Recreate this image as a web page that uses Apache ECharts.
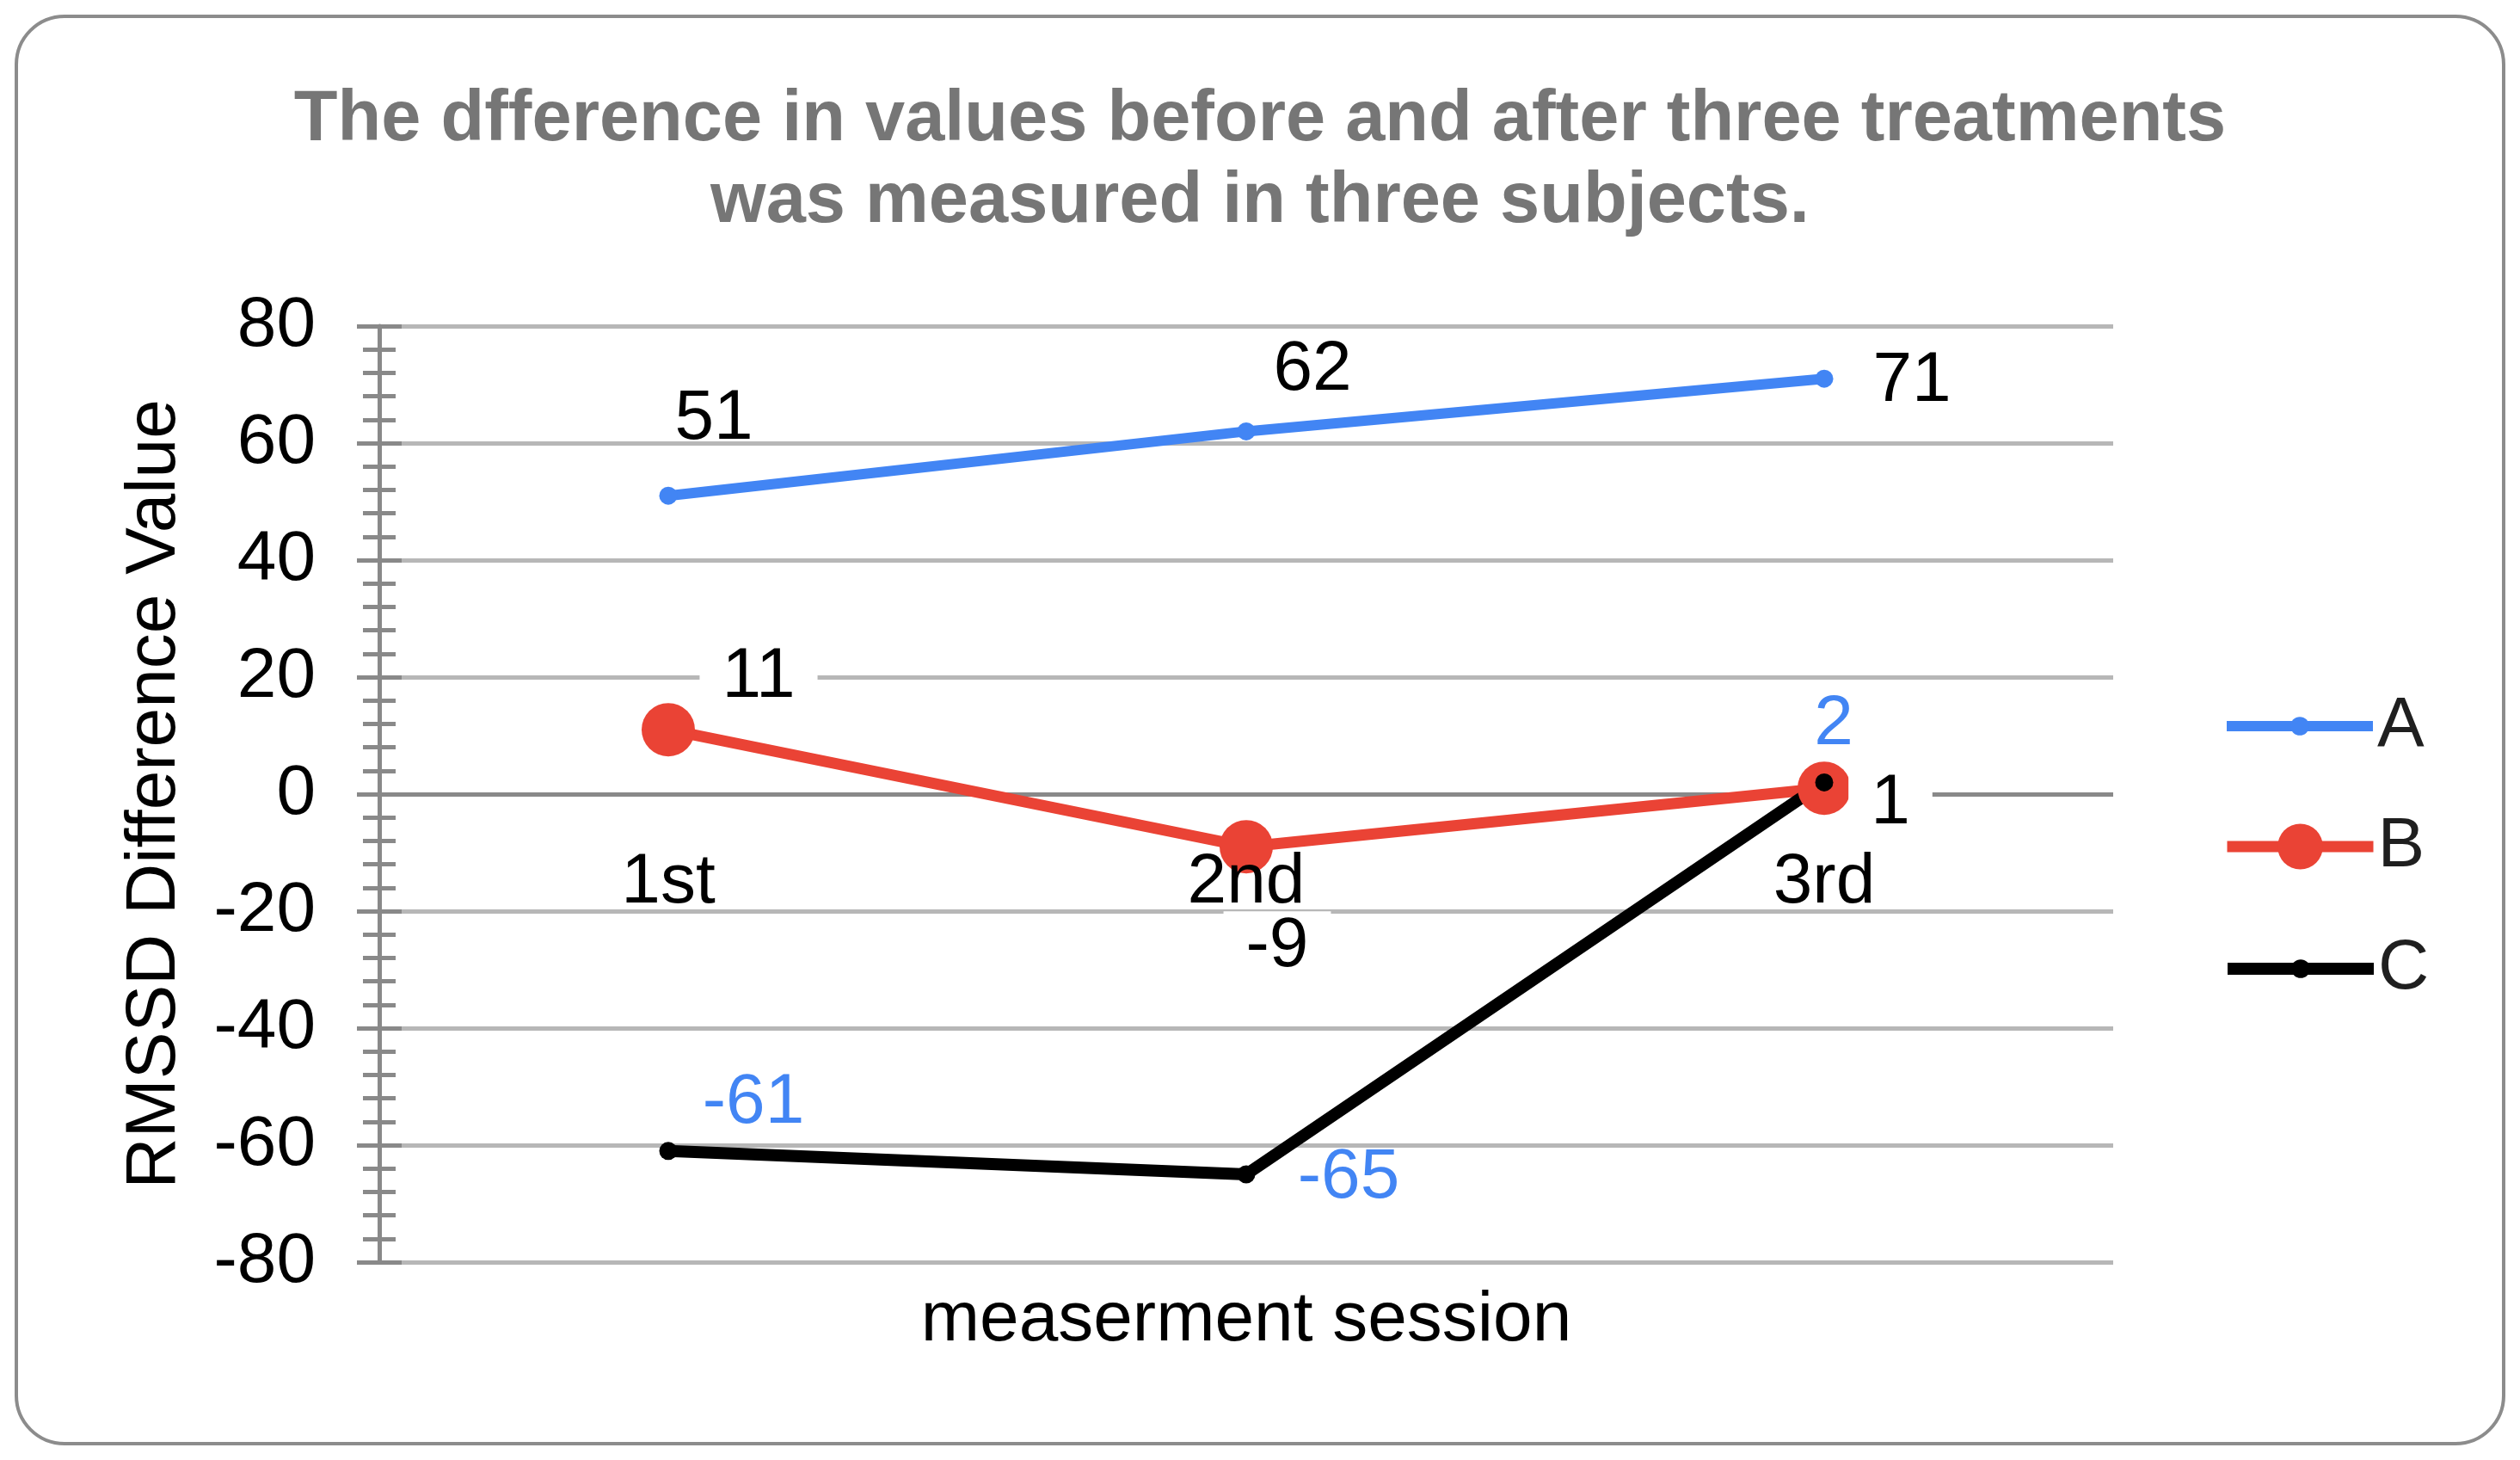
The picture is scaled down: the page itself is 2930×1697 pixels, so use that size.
<!DOCTYPE html>
<html>
<head>
<meta charset="utf-8">
<script src="https://cdn.jsdelivr.net/npm/echarts@6/dist/echarts.min.js"></script>
<style>
  html, body { margin: 0; padding: 0; background: #fff; }
  #main { width: 2930px; height: 1697px; }
</style>
</head>
<body>
<div id="main"></div>
<script>
const categories = ['1st', '2nd', '3rd'];
const seriesA = [51, 62, 71];
const seriesB = [11, -9, 1];
const seriesC = [-61, -65, 2];
const yMin = -80, yMax = 80, yStep = 20;

// where each data label sits relative to its point (px)
const offA = [[53, -89], [77, -71], [102, 3]];
const offB = [[105, -61], [36, 116], [77, 18]];
const offC = [[99, -55], [119, 4], [11, -67]];

const font = 'Liberation Sans, Arial, sans-serif';
const axisGrey = '#898989';

const gridTop = 379, gridBottom = 230, chartH = 1697;
const plotH = chartH - gridTop - gridBottom;
// lift the category axis from the plot bottom up to the zero line
const zeroLift = -plotH * (0 - yMin) / (yMax - yMin);

const withOffsets = (vals, offs) => vals.map((v, i) => ({ value: v, label: { offset: offs[i] } }));

const labelBase = {
  show: true,
  position: 'inside',
  align: 'center',
  verticalAlign: 'middle',
  fontSize: 82,
  fontFamily: font,
  color: '#000'
};

const yAxisCommon = {
  type: 'value',
  min: yMin,
  max: yMax,
  interval: yStep,
  position: 'left'
};

const legendText = { fontSize: 82, color: '#1f1f1f', fontFamily: font };

const option = {
  animation: false,
  backgroundColor: '#fff',
  title: {
    text: 'The dfference in values before and after three treatments\nwas measured in three subjects.',
    left: 'center',
    top: 88,
    textStyle: { fontSize: 83, fontWeight: 'bold', color: '#767676', lineHeight: 95, fontFamily: font }
  },
  graphic: [{
    type: 'rect',
    shape: { x: 19, y: 19, width: 2892, height: 1659, r: 56 },
    style: { fill: 'none', stroke: '#8c8c8c', lineWidth: 4 },
    silent: true
  }],
  legend: [
    { data: ['A'], left: 2583, top: 803, padding: 0, itemWidth: 170, itemHeight: 27, selectedMode: false,
      lineStyle: { width: 12 }, textStyle: legendText },
    { data: ['B'], left: 2583, top: 943, padding: 0, itemWidth: 170, itemHeight: 66, selectedMode: false,
      lineStyle: { width: 13 }, textStyle: legendText },
    { data: ['C'], left: 2583, top: 1085, padding: 0, itemWidth: 170, itemHeight: 27, selectedMode: false,
      lineStyle: { width: 14 }, textStyle: legendText }
  ],
  grid: { left: 441, right: 473, top: gridTop, bottom: gridBottom, containLabel: false, outerBoundsMode: 'none' },
  xAxis: [
    {
      // category labels sit on the zero line, above the markers
      type: 'category',
      data: categories,
      position: 'bottom',
      offset: zeroLift,
      z: 10,
      axisLine: { show: false, onZero: false },
      axisTick: { show: false },
      axisLabel: { margin: 62, fontSize: 82, color: '#000', fontFamily: font },
      splitLine: { show: false }
    },
    {
      // axis title under the plot
      type: 'category',
      data: categories,
      position: 'bottom',
      axisLine: { show: false, onZero: false },
      axisTick: { show: false },
      axisLabel: { show: false },
      splitLine: { show: false },
      name: 'measerment session',
      nameLocation: 'middle',
      nameGap: 27,
      nameTextStyle: { fontSize: 82, color: '#000', fontFamily: font }
    }
  ],
  yAxis: [
    Object.assign({}, yAxisCommon, {
      axisLine: { show: true, lineStyle: { color: axisGrey, width: 5 } },
      axisTick: { show: true, length: 26, lineStyle: { color: axisGrey, width: 5 } },
      minorTick: { show: true, splitNumber: 5, length: 19, lineStyle: { color: axisGrey, width: 5 } },
      axisLabel: { margin: 74, fontSize: 82, color: '#000', fontFamily: font },
      splitLine: { show: true, lineStyle: { color: '#b7b7b7', width: 5 } },
      name: 'RMSSD Difference Value',
      nameLocation: 'middle',
      nameGap: 220,
      nameTextStyle: { fontSize: 82, color: '#000', fontFamily: font }
    }),
    Object.assign({}, yAxisCommon, {
      // inner half of the crossing ticks
      axisLine: { show: false },
      axisTick: { show: true, inside: true, length: 26, lineStyle: { color: axisGrey, width: 5 } },
      minorTick: { show: true, splitNumber: 5, length: 19, lineStyle: { color: axisGrey, width: 5 } },
      axisLabel: { show: false },
      splitLine: { show: false }
    })
  ],
  series: [
    {
      name: 'A', type: 'line', symbol: 'circle', symbolSize: 21,
      data: withOffsets(seriesA, offA),
      itemStyle: { color: '#4285f4' },
      lineStyle: { width: 12, color: '#4285f4' },
      label: Object.assign({}, labelBase),
      // the horizontal axis line at zero, kept under the markers
      markLine: {
        silent: true,
        z: 1,
        symbol: 'none',
        label: { show: false },
        lineStyle: { color: axisGrey, width: 5, type: 'solid' },
        data: [{ yAxis: 0 }]
      }
    },
    {
      name: 'B', type: 'line', symbol: 'circle', symbolSize: 62,
      data: withOffsets(seriesB, offB),
      itemStyle: { color: '#ea4335' },
      lineStyle: { width: 13, color: '#ea4335' },
      label: Object.assign({}, labelBase, { backgroundColor: '#fff', padding: [0, 26] })
    },
    {
      name: 'C', type: 'line', symbol: 'circle', symbolSize: 21,
      data: withOffsets(seriesC, offC),
      itemStyle: { color: '#000' },
      lineStyle: { width: 14, color: '#000' },
      label: Object.assign({}, labelBase, { color: '#4285f4' })
    }
  ]
};

const chart = echarts.init(document.getElementById('main'));
chart.setOption(option);
</script>
</body>
</html>
